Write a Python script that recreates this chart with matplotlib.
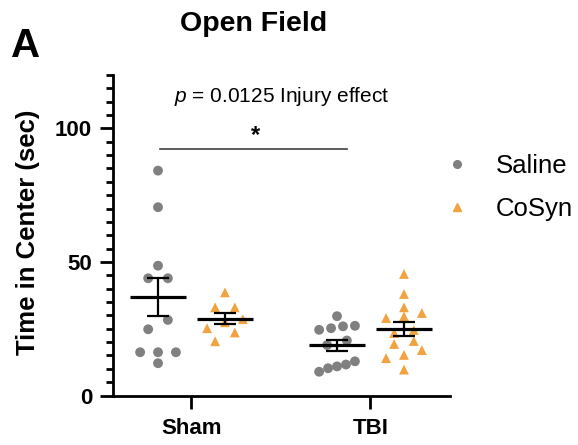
import numpy as np
import matplotlib
matplotlib.use("Agg")
import matplotlib.pyplot as plt
from matplotlib.lines import Line2D
from matplotlib.ticker import MultipleLocator, FixedLocator

plt.rcParams["font.family"] = ["Liberation Sans", "DejaVu Sans"]
plt.rcParams["mathtext.fontset"] = "custom"
plt.rcParams["mathtext.it"] = "Liberation Sans:italic"
plt.rcParams["mathtext.rm"] = "Liberation Sans"

# ---- data: time in center (sec) per animal ----
groups = ["Sham", "TBI"]
treatments = ["Saline", "CoSyn"]
sham_saline = [84.2, 70.5, 48.6, 43.9, 43.9, 28.3, 24.8, 16.2, 16.2, 16.2, 12.1]
sham_cosyn = [38.6, 33.0, 33.0, 28.6, 27.4, 25.2, 23.6, 20.3]
tbi_saline = [29.7, 26.1, 25.9, 25.2, 24.6, 20.6, 18.9, 12.8, 11.6, 10.9, 10.2, 8.9]
tbi_cosyn = [45.5, 38.0, 33.0, 30.9, 29.6, 29.0, 24.5, 23.4, 20.4, 19.3, 17.0, 15.2, 14.0, 9.7]
p_value = "0.0125"
sig_label = "*"

colors = {"Saline": "#808080", "CoSyn": "#F2A23F"}
markers = {"Saline": "o", "CoSyn": "^"}


def row_offsets(values, row_span=4.0, step=0.11, max_width=0.20):
    """Spread points that share a value band side by side, centred on the group."""
    v = np.asarray(values, dtype=float)
    order = np.argsort(v, kind="stable")
    offsets = np.zeros(len(v))
    rows, current = [], []
    for i in order:
        if current and v[i] - v[current[0]] >= row_span - 1e-9:
            rows.append(current)
            current = []
        current.append(i)
    rows.append(current)
    for r in rows:
        n = len(r)
        if n > 1:
            s = min(step, max_width / (n - 1))
            for k, i in enumerate(r):
                offsets[i] = (k - (n - 1) / 2) * s
    return offsets


fig = plt.figure(figsize=(5.78, 4.45), dpi=100)
ax = fig.add_axes([0.1955, 0.1112, 0.5830, 0.7203])

data = {
    ("Sham", "Saline"): sham_saline,
    ("Sham", "CoSyn"): sham_cosyn,
    ("TBI", "Saline"): tbi_saline,
    ("TBI", "CoSyn"): tbi_cosyn,
}
shift = {"Saline": -0.187, "CoSyn": 0.187}

for gi, g in enumerate(groups):
    for t in treatments:
        vals = np.asarray(data[(g, t)], dtype=float)
        xc = gi + shift[t]
        xs = xc + row_offsets(vals)
        ax.scatter(xs, vals, s=50, marker=markers[t], color=colors[t],
                   edgecolors="none", zorder=2, clip_on=False)
        mean = vals.mean()
        sem = vals.std(ddof=1) / np.sqrt(len(vals))
        ax.hlines(mean, xc - 0.155, xc + 0.155, colors="black", lw=2.3, zorder=4)
        ax.errorbar(xc, mean, yerr=sem, fmt="none", ecolor="black",
                    elinewidth=1.6, capsize=7.6, capthick=1.6, zorder=4)

ax.set_xlim(-0.4385, 1.444)
ax.set_ylim(0, 120)
ax.xaxis.set_major_locator(FixedLocator(range(len(groups))))
ax.set_xticklabels(groups, fontsize=16, fontweight="bold")
ax.yaxis.set_major_locator(FixedLocator([0, 50, 100]))
ax.yaxis.set_minor_locator(MultipleLocator(5))
for lab in ax.get_yticklabels():
    lab.set_fontsize(16)
    lab.set_fontweight("bold")

for side in ("top", "right"):
    ax.spines[side].set_visible(False)
for side in ("left", "bottom"):
    ax.spines[side].set_linewidth(2.0)
ax.tick_params(axis="both", which="major", length=9.5, width=2.0)
ax.tick_params(axis="y", which="major", pad=5.5)
ax.tick_params(axis="y", which="minor", length=5, width=2.0)
ax.tick_params(axis="x", which="major", pad=6.5)

ax.set_ylabel("Time in Center (sec)", fontsize=18.5, fontweight="bold")
ax.yaxis.set_label_coords(-0.218, 0.51)

# injury comparison bracket
ax.plot([-0.175, 0.867], [92.2, 92.2], color="#404040", lw=1.2, clip_on=False)
ax.text(0.355, 97.4, sig_label, fontsize=17, fontweight="bold", ha="center", va="center")
ax.text(0.503, 112.0, rf"$p$ = {p_value} Injury effect", fontsize=15,
        ha="center", va="center")

fig.text(254 / 578, 1 - 24 / 445, "Open Field", fontsize=20.5, fontweight="bold",
         ha="center", va="center")
fig.text(11 / 578, 1 - 57.3 / 445, "A", fontsize=29, fontweight="bold",
         ha="left", va="baseline")

handles = [Line2D([], [], ls="none", marker=markers[t], color=colors[t], markersize=5.5)
           for t in treatments]
fig.legend(handles, treatments, loc="upper left", bbox_to_anchor=(444 / 578, 1 - 154 / 445),
           frameon=False, fontsize=18.5, handlelength=1.0, handletextpad=1.0,
           labelspacing=0.74, borderpad=0, borderaxespad=0)

fig.savefig("out.png", dpi=100)
